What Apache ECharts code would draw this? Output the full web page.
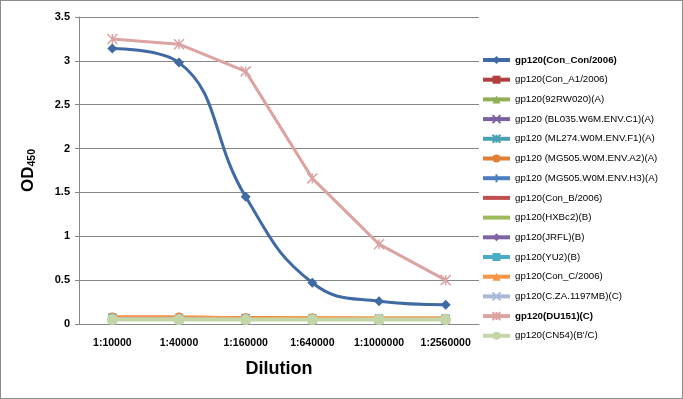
<!DOCTYPE html>
<html>
<head>
    <meta charset="UTF-8">
    <title>OD450 dilution</title>
    <style>
        html, body { margin: 0; padding: 0; background: #fff; }
        #main { width: 683px; height: 399px; box-sizing: border-box; border: 1px solid #8c8c8c; }
    </style>
    <script src="https://cdn.jsdelivr.net/npm/echarts@6/dist/echarts.min.js"></script>
</head>
<body>
<div id="main"></div>
<script>
    // 稀释度
    var dilutions = ['1:10000', '1:40000', '1:160000', '1:640000', '1:1000000', '1:2560000'];
    var yTicks = [0, 0.5, 1, 1.5, 2, 2.5, 3, 3.5];

    var names = [
        'gp120(Con_Con/2006)', 'gp120(Con_A1/2006)', 'gp120(92RW020)(A)',
        'gp120 (BL035.W6M.ENV.C1)(A)', 'gp120 (ML274.W0M.ENV.F1)(A)',
        'gp120 (MG505.W0M.ENV.A2)(A)', 'gp120 (MG505.W0M.ENV.H3)(A)',
        'gp120(Con_B/2006)', 'gp120(HXBc2)(B)', 'gp120(JRFL)(B)', 'gp120(YU2)(B)',
        'gp120(Con_C/2006)', 'gp120(C.ZA.1197MB)(C)', 'gp120(DU151)(C)', 'gp120(CN54)(B\'/C)'
    ];
    var boldNames = ['gp120(Con_Con/2006)', 'gp120(DU151)(C)'];

    var conCon  = [3.14, 2.98, 1.45, 0.47, 0.26, 0.22];
    var conA1   = [0.07, 0.07, 0.07, 0.06, 0.06, 0.06];
    var rw020   = [0.06, 0.06, 0.06, 0.06, 0.06, 0.06];
    var bl035   = [0.06, 0.06, 0.06, 0.05, 0.05, 0.05];
    var ml274   = [0.07, 0.06, 0.06, 0.06, 0.06, 0.06];
    var mg505a2 = [0.08, 0.08, 0.07, 0.07, 0.06, 0.06];
    var mg505h3 = [0.06, 0.06, 0.06, 0.05, 0.05, 0.05];
    var conB    = [0.07, 0.07, 0.07, 0.06, 0.06, 0.06];
    var hxbc2   = [0.05, 0.05, 0.05, 0.05, 0.05, 0.05];
    var jrfl    = [0.06, 0.06, 0.06, 0.06, 0.05, 0.05];
    var yu2     = [0.07, 0.06, 0.06, 0.06, 0.06, 0.06];
    var conC    = [0.08, 0.08, 0.07, 0.07, 0.07, 0.07];
    var cza1197 = [0.06, 0.06, 0.05, 0.05, 0.05, 0.05];
    var du151   = [3.25, 3.19, 2.88, 1.66, 0.91, 0.50];
    var cn54    = [0.05, 0.05, 0.05, 0.05, 0.05, 0.05];

    var allData = [conCon, conA1, rw020, bl035, ml274, mg505a2, mg505h3, conB, hxbc2, jrfl, yu2, conC, cza1197, du151, cn54];

    var colors = ['#3f6aa3', '#b0403d', '#8fae55', '#7c5fa0', '#4aa0b3', '#e07f35', '#4a7ec0',
        '#c0504d', '#9bbb59', '#8064a2', '#4bacc6', '#f79646', '#a9b8d8', '#dba4a3', '#c2d6a7'];

    var xPath = 'path://M0,0L10,10M10,0L0,10';
    var starPath = 'path://M0,0L10,10M10,0L0,10M5,0L5,10';
    var plusPath = 'path://M0,5L10,5M5,0L5,10';
    var symbols = ['diamond', 'rect', 'triangle', xPath, starPath, 'circle', plusPath,
        'none', 'none', 'diamond', 'rect', 'triangle', xPath, starPath, 'circle'];
    var sizes = [10, 8, 9, 8, 8, 9, 10, 0, 0, 9, 8, 9, 8, 10, 11];

    var series = [];
    var legendData = [];
    for (var i = 0; i < names.length; i++) {
        var open = (symbols[i] === xPath || symbols[i] === starPath || symbols[i] === plusPath);
        series.push({
            name: names[i],
            type: 'line',
            data: allData[i],
            smooth: i === 0 ? 0.45 : false,
            symbol: symbols[i],
            symbolSize: sizes[i],
            showSymbol: symbols[i] !== 'none',
            lineStyle: { color: colors[i], width: i === 14 ? 4 : 3 },
            itemStyle: {
                color: colors[i],
                borderColor: colors[i],
                borderWidth: open ? 1.5 : 0
            },
            emphasis: { disabled: true },
            z: 2 + i
        });
        if (symbols[i] === 'none') {
            legendData.push({ name: names[i], itemStyle: { color: 'rgba(0,0,0,0)', borderWidth: 0 } });
        } else {
            legendData.push({ name: names[i] });
        }
    }

    var myChart = echarts.init(document.getElementById('main'));
    var option = {
        animation: false,
        color: colors,
        grid: { left: 78, right: 203, top: 16, bottom: 74 },
        legend: {
            orient: 'vertical',
            left: 480,
            top: 54,
            padding: 0,
            itemWidth: 27,
            itemHeight: 10,
            itemGap: 9.7,
            data: legendData,
            lineStyle: { width: 4 },
            formatter: function (n) {
                return boldNames.indexOf(n) >= 0 ? '{b|' + n + '}' : n;
            },
            textStyle: {
                fontFamily: 'Liberation Sans',
                fontSize: 9.7,
                color: '#000',
                rich: { b: { fontWeight: 'bold', fontSize: 9.7, fontFamily: 'Liberation Sans', color: '#000' } }
            }
        },
        xAxis: {
            type: 'category',
            data: dilutions,
            boundaryGap: true,
            name: 'Dilution',
            nameLocation: 'middle',
            nameGap: 36,
            nameTextStyle: { fontFamily: 'Liberation Sans', fontWeight: 'bold', fontSize: 18, color: '#000' },
            axisLine: { lineStyle: { color: '#868686' } },
            axisTick: { show: false },
            axisLabel: { fontFamily: 'Liberation Sans', fontWeight: 'bold', fontSize: 10.5, color: '#000', margin: 14 }
        },
        yAxis: {
            type: 'value',
            min: 0,
            max: 3.5,
            interval: 0.5,
            name: 'OD{s|450}',
            nameLocation: 'middle',
            nameRotate: 90,
            nameGap: 41,
            nameTextStyle: {
                fontFamily: 'Liberation Sans', fontWeight: 'bold', fontSize: 17, color: '#000',
                rich: { s: { fontFamily: 'Liberation Sans', fontWeight: 'bold', fontSize: 10.5, color: '#000', padding: [9, 0, 0, 0] } }
            },
            axisLine: { show: true, lineStyle: { color: '#868686' } },
            axisTick: { show: true, length: 4, lineStyle: { color: '#868686' } },
            splitLine: { lineStyle: { color: '#868686' } },
            axisLabel: {
                fontFamily: 'Liberation Sans', fontWeight: 'bold', fontSize: 11, color: '#000', margin: 9,
                formatter: function (v) { return yTicks.indexOf(v) >= 0 ? String(v) : ''; }
            }
        },
        series: series
    };
    myChart.setOption(option);
</script>
</body>
</html>
